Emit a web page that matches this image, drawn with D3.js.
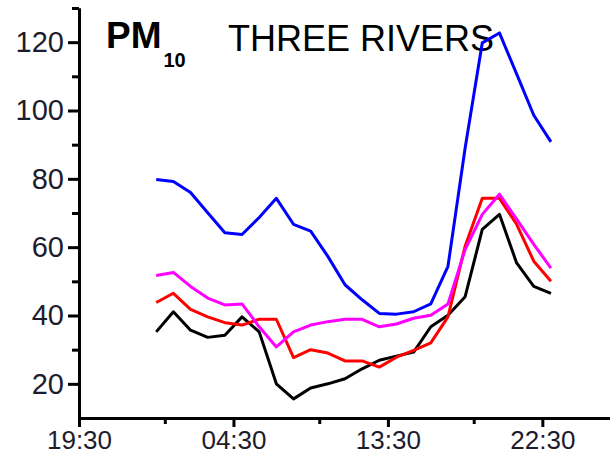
<!DOCTYPE html>
<html>
<head>
<meta charset="utf-8">
<script src="https://cdn.jsdelivr.net/npm/d3@7"></script>
<style>
  body { margin: 0; background: #fff; }
  text { font-family: "Liberation Sans", Arial, sans-serif; }
  .axis path, .axis line { stroke: #000; stroke-width: 3px; }
  .axis text { fill: #1c1c2c; }
</style>
</head>
<body>
<div id="chart"></div>
<script>
// hourly values, clock hour 0..23
var hours = [0,1,2,3,4,5,6,7,8,9,10,11,12,13,14,15,16,17,18,19,20,21,22,23];

var blueVals    = [79.8,79.2,76.0,70.1,64.2,63.7,68.7,74.3,66.7,64.7,57.3,49.0,44.6,40.6,40.4,41.1,43.4,54.4,89.0,119.8,122.7,110.7,98.6,90.8];
var magentaVals = [51.7,52.6,48.5,45.1,43.1,43.4,36.7,30.8,35.2,37.2,38.2,38.9,38.9,36.7,37.5,39.2,40.1,43.4,59.3,69.6,75.5,68.2,60.8,53.9];
var redVals     = [43.8,46.5,41.8,39.6,37.9,37.2,38.9,38.9,27.7,30.0,29.0,26.7,26.7,24.9,27.8,29.8,32.0,39.6,60.3,74.3,74.3,66.7,55.9,50.0];
var blackVals   = [35.2,41.1,35.7,33.6,34.2,39.6,35.2,20.0,15.6,18.8,20.0,21.5,24.4,26.9,28.1,29.3,36.7,40.1,45.5,65.2,69.6,55.4,48.5,46.5];

// x ticks in hours relative to midnight (19:30 the day before = -4.5)
var xTickVals   = [-4.5, 4.5, 13.5, 22.5];
var xTickLabels = ["19:30", "04:30", "13:30", "22:30"];
var xMinorVals  = [0.5, 9.5, 18.5];
var yTickVals   = [20, 40, 60, 80, 100, 120];
var yMinorVals  = [30, 50, 70, 90, 110, 130];

var width = 610, height = 455;

var svg = d3.select("#chart").append("svg")
  .attr("width", width)
  .attr("height", height);

var x = d3.scaleLinear().domain([-4.5, 26.5]).range([79, 611]);
var y = d3.scaleLinear().domain([10, 130]).range([418, 8]);

// title
var title = svg.append("text")
  .attr("x", 106)
  .attr("y", 48)
  .style("font-weight", "bold")
  .style("font-size", "37px")
  .attr("fill", "#000");
title.append("tspan").text("PM");
title.append("tspan")
  .attr("dx", 2)
  .attr("dy", 19)
  .style("font-size", "20px")
  .text("10");

svg.append("text")
  .attr("x", 228)
  .attr("y", 51)
  .style("font-size", "36px")
  .attr("fill", "#000")
  .text("THREE RIVERS");

// axes
svg.append("g").attr("class", "axis")
  .attr("transform", "translate(" + x(-4.5) + ",0)")
  .call(d3.axisLeft(y).tickValues(yMinorVals).tickSize(7).tickSizeOuter(0).tickFormat(""));

var yAxis = svg.append("g").attr("class", "axis")
  .attr("transform", "translate(" + x(-4.5) + ",0)")
  .call(d3.axisLeft(y).tickValues(yTickVals).tickSize(11).tickSizeOuter(0).tickPadding(4));
yAxis.selectAll("text").style("font-size", "29px");

svg.append("g").attr("class", "axis")
  .attr("transform", "translate(0," + y(10) + ")")
  .call(d3.axisBottom(x).tickValues(xMinorVals).tickSize(6).tickSizeOuter(0).tickFormat(""));

var xAxis = svg.append("g").attr("class", "axis")
  .attr("transform", "translate(0," + y(10) + ")")
  .call(d3.axisBottom(x).tickValues(xTickVals).tickSize(9).tickSizeOuter(0).tickPadding(4)
    .tickFormat(function(d, i) { return xTickLabels[i]; }));
xAxis.selectAll("text").style("font-size", "26px");

// series
var series = [
  {vals: blackVals,   color: "#000000"},
  {vals: redVals,     color: "#ff0000"},
  {vals: magentaVals, color: "#ff00ff"},
  {vals: blueVals,    color: "#0000ff"}
];

var line = d3.line()
  .x(function(d, i) { return x(hours[i]); })
  .y(function(d) { return y(d); });

svg.selectAll("path.series")
  .data(series)
  .enter().append("path")
  .attr("class", "series")
  .attr("fill", "none")
  .attr("stroke", function(d) { return d.color; })
  .attr("stroke-width", 3)
  .attr("stroke-linejoin", "round")
  .attr("d", function(d) { return line(d.vals); });
</script>
</body>
</html>
